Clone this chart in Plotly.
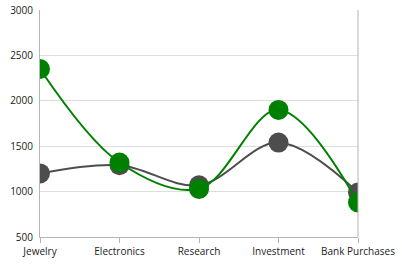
import plotly.graph_objects as go

categories = ["Jewelry", "Electronics", "Research", "Investment", "Bank Purchases"]
series_gray = [1200, 1290, 1070, 1540, 990]
series_green = [2350, 1320, 1030, 1900, 880]
y_ticks = [500, 1000, 1500, 2000, 2500, 3000]

fig = go.Figure()
fig.add_trace(go.Scatter(
    x=categories, y=series_gray, mode="lines+markers",
    line=dict(color="#4d4d4d", width=2, shape="spline", smoothing=1),
    marker=dict(color="#4d4d4d", size=20),
    cliponaxis=True, showlegend=False))
fig.add_trace(go.Scatter(
    x=categories, y=series_green, mode="lines+markers",
    line=dict(color="#008000", width=2, shape="spline", smoothing=1),
    marker=dict(color="#008000", size=20),
    cliponaxis=True, showlegend=False))

fig.update_layout(
    width=402, height=269,
    margin=dict(l=40, r=44, t=10, b=32),
    paper_bgcolor="white", plot_bgcolor="white",
    font=dict(family="Open Sans", size=10, color="#222222"),
    xaxis=dict(
        type="category", range=[0, 4], automargin=False,
        showgrid=False, showline=True, linecolor="#b5b5b5", linewidth=1,
        ticks="outside", ticklen=5, tickcolor="#b5b5b5",
        mirror=False, zeroline=False, fixedrange=True,
    ),
    yaxis=dict(
        range=[500, 3000], tickvals=y_ticks, automargin=False,
        showgrid=True, gridcolor="#dedede", gridwidth=1,
        showline=True, linecolor="#b5b5b5", linewidth=1,
        zeroline=False, ticks="", ticklabelstandoff=4,
    ),
    shapes=[dict(type="line", xref="paper", yref="paper", x0=1, x1=1, y0=0, y1=1,
                 line=dict(color="#b5b5b5", width=1))],
)
fig.write_html("out.html")
